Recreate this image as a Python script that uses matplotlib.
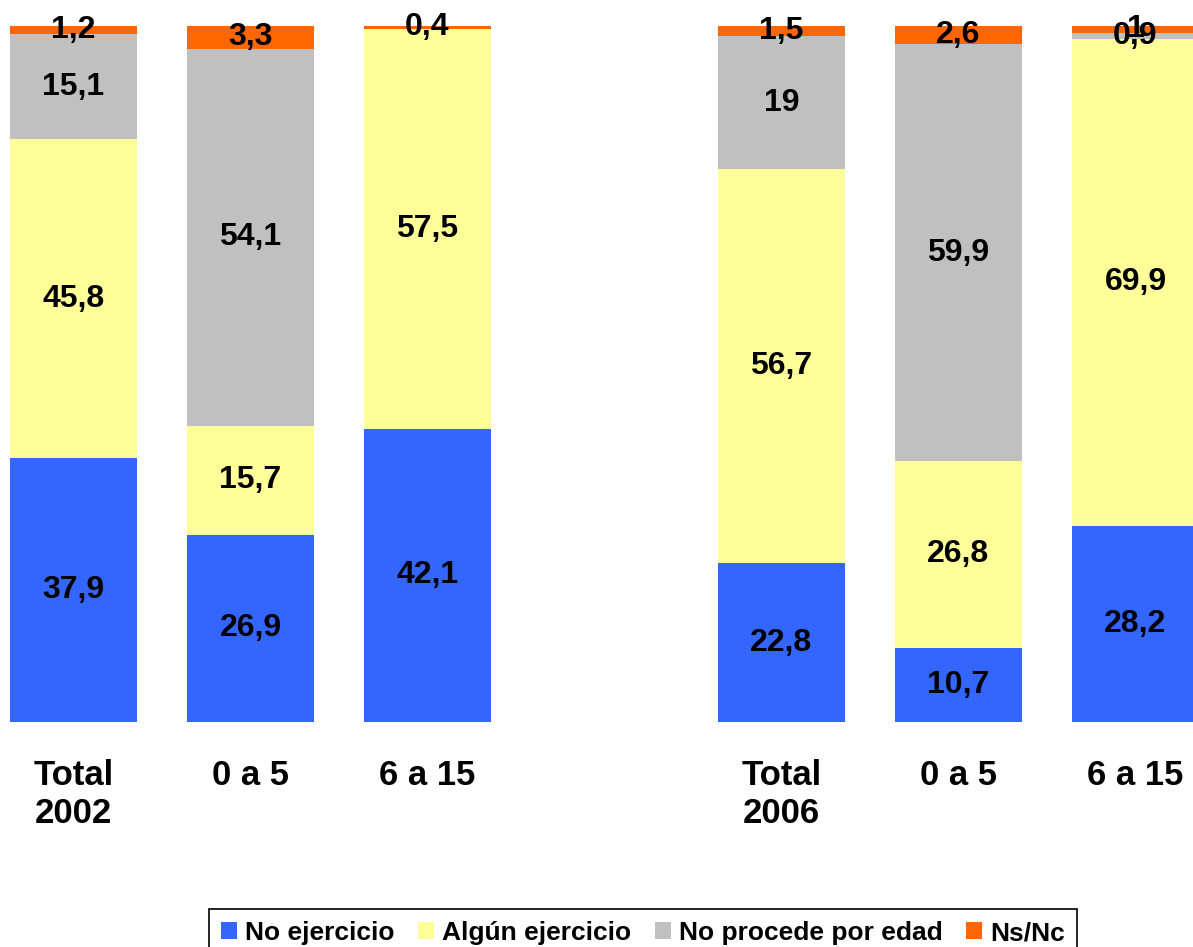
import matplotlib
matplotlib.use("Agg")
import matplotlib.pyplot as plt
import numpy as np

plt.rcParams['font.family'] = ['Liberation Sans', 'DejaVu Sans']

# Data (percentages)
categories = ["Total\n2002", "0 a 5", "6 a 15", "Total\n2006", "0 a 5", "6 a 15"]
positions = [0, 1, 2, 4, 5, 6]
series_names = ["No ejercicio", "Algún ejercicio", "No procede por edad", "Ns/Nc"]
no_ejercicio = [37.9, 26.9, 42.1, 22.8, 10.7, 28.2]
algun_ejercicio = [45.8, 15.7, 57.5, 56.7, 26.8, 69.9]
no_procede = [15.1, 54.1, 0, 19, 59.9, 0.9]
ns_nc = [1.2, 3.3, 0.4, 1.5, 2.6, 1]
labels_text = [
    ["37,9", "26,9", "42,1", "22,8", "10,7", "28,2"],
    ["45,8", "15,7", "57,5", "56,7", "26,8", "69,9"],
    ["15,1", "54,1", "", "19", "59,9", "0,9"],
    ["1,2", "3,3", "0,4", "1,5", "2,6", "1"],
]
colors = ["#3366FF", "#FFFF99", "#C0C0C0", "#FF6600"]

fig = plt.figure(figsize=(11.93, 9.47), dpi=100)
ax = fig.add_axes([0.0, 1 - 722 / 947, 1.0, 696 / 947])

all_series = [no_ejercicio, algun_ejercicio, no_procede, ns_nc]
bottom = np.zeros(len(positions))
handles = []
for vals, name, col, txts in zip(all_series, series_names, colors, labels_text):
    vals = np.array(vals, dtype=float)
    b = ax.bar(positions, vals, bottom=bottom, width=0.72, color=col,
               edgecolor="none", label=name)
    handles.append(b)
    for x, v, bt, t in zip(positions, vals, bottom, txts):
        if t:
            ax.text(x, bt + v / 2, t, ha="center", va="center",
                    fontsize=23, fontweight="bold", color="black")
    bottom += vals

ax.set_xlim(-0.415, 6.325)
ax.set_ylim(0, 100)
ax.axis("off")

for x, c in zip(positions, categories):
    ax.text(x, -5.3, c, ha="center", va="top", fontsize=25,
            fontweight="bold", linespacing=1.2)

leg = fig.legend(handles=handles, loc="upper center",
                 bbox_to_anchor=(643 / 1193, 1 - 896 / 947), ncol=4,
                 frameon=True, fancybox=False, framealpha=1, edgecolor="black",
                 prop={"weight": "bold", "size": 19},
                 handlelength=0.6, handleheight=0.6, handletextpad=0.3,
                 columnspacing=0.9, borderpad=0.45)
leg.get_frame().set_linewidth(1.2)

fig.savefig("out.png", dpi=100)
